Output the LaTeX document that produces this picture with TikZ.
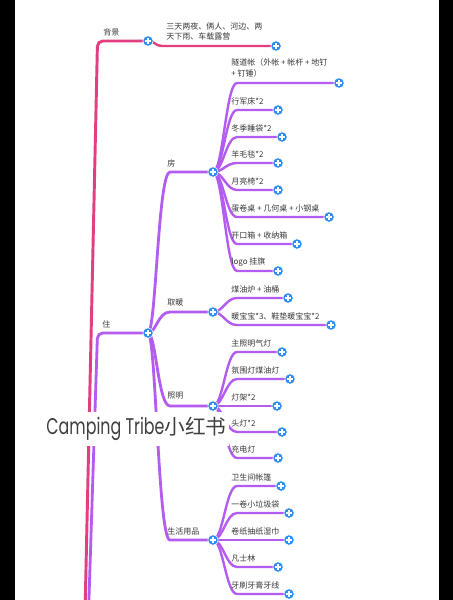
\documentclass[tikz,border=0pt]{standalone}
\usepackage{fontspec}
\setmainfont{Noto Sans CJK SC}
\newfontfamily\wmfont{Poppins}
\usetikzlibrary{calc}
\definecolor{pinkline}{HTML}{E23E80}
\definecolor{purpline}{HTML}{B45CF0}
\definecolor{dotblue}{HTML}{2D8CF0}
\definecolor{txtc}{HTML}{3A3A3A}
\definecolor{wmc}{HTML}{404040}
\pgfdeclarelayer{bg}
\pgfsetlayers{bg,main}
\newcommand\mmlink[6]{\draw[#1] (#2.center) .. controls ($(#2.center)+(#4,0)$) and ($(#2.center |- #3.center)+(#5,0)$) .. ($(#2.center |- #3.center)+(#6,0)$) -- (#3.center);}
\begin{document}
\begin{tikzpicture}[x=0.75pt,y=-0.75pt,
  plusdot/.style={circle, fill=dotblue, draw=white, line width=0.4pt, minimum size=7.8pt, inner sep=0pt,
    path picture={\draw[white, line width=1.1pt] ([xshift=-2.1pt]path picture bounding box.center) -- ([xshift=2.1pt]path picture bounding box.center) ([yshift=-2.1pt]path picture bounding box.center) -- ([yshift=2.1pt]path picture bounding box.center);}},
  lab/.style={font=\fontsize{6}{7.8}\selectfont, text=txtc, inner sep=0pt, anchor=west, align=left},
  pinkw/.style={draw=pinkline, line width=2.2pt},
  purw/.style={draw=purpline, line width=2.1pt},
  pinkb/.style={draw=pinkline, line width=1.8pt},
  purb/.style={draw=purpline, line width=1.8pt},
  wmbox/.style={fill=white, minimum width=139pt, minimum height=25.5pt, inner sep=0pt, text=wmc}
]
\useasboundingbox (0,0) rectangle (453,600);
\clip (0,0) rectangle (453,600);

% hub dots
\node[plusdot] (bj) at (148,41) {};
\node[plusdot] (zhu) at (148,333) {};
\node[plusdot] (fang) at (213,172) {};
\node[plusdot] (qn) at (213,312) {};
\node[plusdot] (zm) at (213,406) {};
\node[plusdot] (sh) at (213,540) {};
% leaf dots
\node[plusdot] (bj1) at (276,46) {};
\node[plusdot] (f1) at (339,83) {};
\node[plusdot] (f2) at (278,110) {};
\node[plusdot] (f3) at (282,137) {};
\node[plusdot] (f4) at (278,163) {};
\node[plusdot] (f5) at (278,190) {};
\node[plusdot] (f6) at (329,217) {};
\node[plusdot] (f7) at (297,244) {};
\node[plusdot] (f8) at (278,271) {};
\node[plusdot] (q1) at (288,298) {};
\node[plusdot] (q2) at (331,325) {};
\node[plusdot] (z1) at (282,352) {};
\node[plusdot] (z2) at (290,379) {};
\node[plusdot] (z3) at (277,406) {};
\node[plusdot] (z4) at (282,432) {};
\node[plusdot] (z5) at (278,458) {};
\node[plusdot] (s1) at (281,486) {};
\node[plusdot] (s2) at (289,513) {};
\node[plusdot] (s3) at (289,540) {};
\node[plusdot] (s4) at (278,567) {};
\node[plusdot] (s5) at (289,594) {};

% labels
\node[lab] (tbj) at (103,32) {背景};
\node[lab] (tzhu) at (102,324) {住};
\node[lab] (tfang) at (167,163) {房};
\node[lab] (tqn) at (167,302) {取暖};
\node[lab] (tzm) at (167,396) {照明};
\node[lab] (tsh) at (167,531) {生活用品};
\node[lab] (tbj1) at (166,31.5) {三天两夜、俩人、河边、两\\天下雨、车载露营};
\node[lab] (tf1) at (231,68) {隧道帐（外帐 + 帐杆 + 地钉\\+ 钉锤）};
\node[lab] (tf2) at (231,101) {行军床*2};
\node[lab] (tf3) at (231,128) {冬季睡袋*2};
\node[lab] (tf4) at (231,154) {羊毛毯*2};
\node[lab] (tf5) at (231,181) {月亮椅*2};
\node[lab] (tf6) at (231,208) {蛋卷桌 + 几何桌 + 小钢桌};
\node[lab] (tf7) at (231,235) {开口箱 + 收纳箱};
\node[lab] (tf8) at (231,262) {logo 挂旗};
\node[lab] (tq1) at (231,289) {煤油炉 + 油桶};
\node[lab] (tq2) at (231,316) {暖宝宝*3、鞋垫暖宝宝*2};
\node[lab] (tz1) at (231,343) {主照明气灯};
\node[lab] (tz2) at (231,370) {氛围灯煤油灯};
\node[lab] (tz3) at (231,397) {灯架*2};
\node[lab] (tz4) at (231,423) {头灯*2};
\node[lab] (tz5) at (231,449) {充电灯};
\node[lab] (ts1) at (231,477) {卫生间帐篷};
\node[lab] (ts2) at (231,504) {一卷小垃圾袋};
\node[lab] (ts3) at (231,531) {卷纸抽纸湿巾};
\node[lab] (ts4) at (231,558) {凡士林};
\node[lab] (ts5) at (231,585) {牙刷牙膏牙线};

\begin{pgfonlayer}{bg}
\fill[white] (0,0) rectangle (453,600);
% trunks
\draw[pinkw, rounded corners=4pt] (84,660) -- (97.5,41) -- (bj.center);
\draw[purw, rounded corners=4pt] (87,660) -- (97.5,333) -- (zhu.center);
% 背景
\mmlink{pinkb}{bj}{bj1}{7}{7}{14}
% 住
\mmlink{purw}{zhu}{fang}{8}{10}{22}
\mmlink{purw}{zhu}{qn}{8}{10}{22}
\mmlink{purw}{zhu}{zm}{8}{10}{22}
\mmlink{purw}{zhu}{sh}{8}{10}{22}
% 房
\foreach \c in {f1,f2,f3,f4,f5,f6,f7,f8}{\mmlink{purb}{fang}{\c}{10}{13}{24}}
% 取暖
\foreach \c in {q1,q2}{\mmlink{purb}{qn}{\c}{10}{13}{24}}
% 照明
\foreach \c in {z1,z2,z3,z4,z5}{\mmlink{purb}{zm}{\c}{10}{13}{24}}
% 生活用品
\foreach \c in {s1,s2,s3,s4,s5}{\mmlink{purb}{sh}{\c}{10}{13}{24}}
\end{pgfonlayer}

% watermark
\node[wmbox] (wm) at (136.5,429) {\scalebox{0.7}[1]{\fontsize{17}{18}\selectfont\wmfont Camping Tribe}\fontsize{15.5}{18}\selectfont 小红书};

% black side bars
\fill[black] (0,0) rectangle (15,600);
\fill[black] (439,0) rectangle (453,600);
\end{tikzpicture}
\end{document}
